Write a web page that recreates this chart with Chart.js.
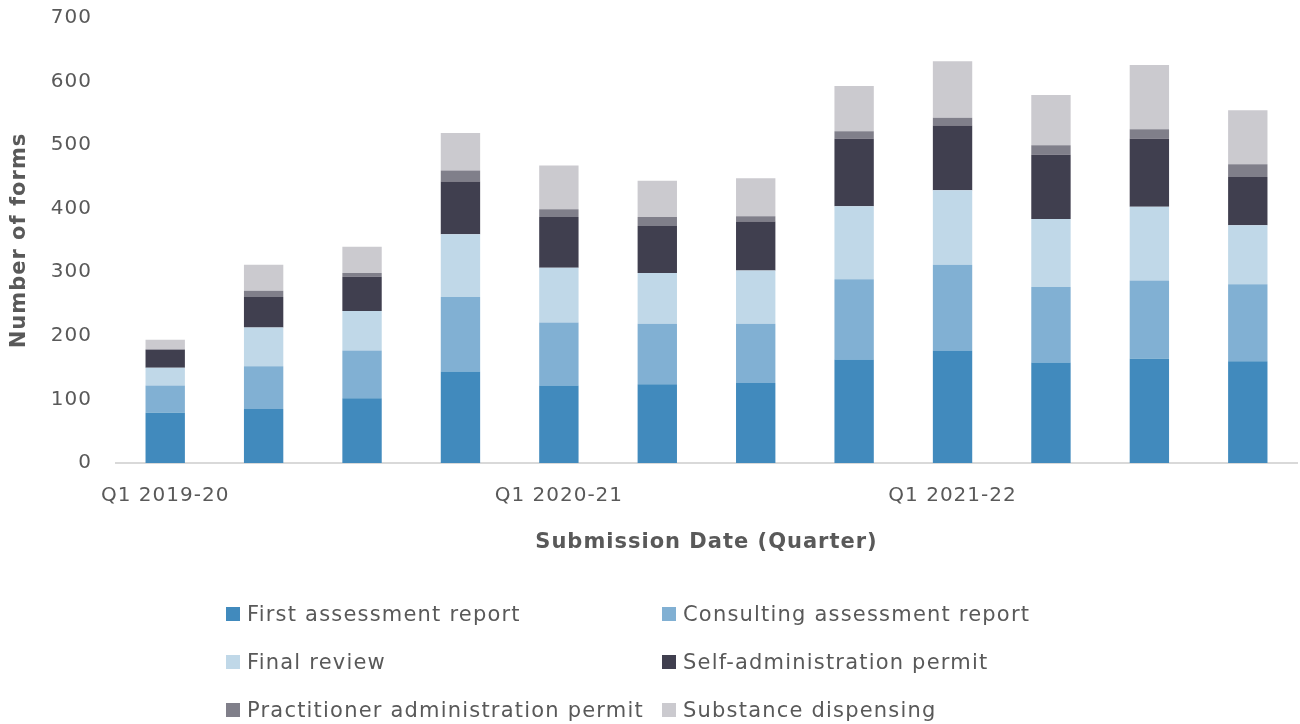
<!DOCTYPE html>
<html>
<head>
<meta charset="utf-8">
<script src="https://cdn.jsdelivr.net/npm/chart.js@4/dist/chart.umd.min.js"></script>
<style>
    body { margin: 0; background: #fff; }
    #wrap { position: relative; width: 1300px; height: 724px; }
    #legend { position: absolute; left: 226px; top: 602px; width: 900px;
        font-family: "DejaVu Sans", sans-serif; font-size: 21px; color: #595959; letter-spacing: 1.2px; }
    .item { position: absolute; display: flex; align-items: center; white-space: nowrap; }
    .box { width: 14px; height: 14px; margin-right: 7px; }
</style>
</head>
<body>
<div id="wrap">
    <canvas id="formsChart" width="1300" height="724"></canvas>
    <div id="legend"></div>
</div>
<script>
// Quarters (only every 4th label is shown, as in the source)
const quarters = [
    'Q1 2019-20', 'Q2 2019-20', 'Q3 2019-20', 'Q4 2019-20',
    'Q1 2020-21', 'Q2 2020-21', 'Q3 2020-21', 'Q4 2020-21',
    'Q1 2021-22', 'Q2 2021-22', 'Q3 2021-22', 'Q4 2021-22'
];

const firstAssessment = [79, 85, 102, 144, 122, 124, 126, 163, 177, 158, 164, 160];
const consultingAssessment = [43, 67, 75, 117, 99, 95, 93, 126, 135, 119, 123, 121];
const finalReview = [28, 61, 62, 99, 86, 80, 84, 115, 117, 107, 116, 93];
const selfAdmin = [28, 48, 54, 83, 80, 74, 77, 106, 102, 101, 107, 76];
const practitionerAdmin = [1, 10, 6, 17, 12, 14, 8, 12, 12, 15, 15, 20];
const substanceDispensing = [15, 41, 41, 59, 69, 57, 60, 71, 89, 79, 101, 85];

const yTicks = [0, 100, 200, 300, 400, 500, 600, 700];

const textColor = '#595959';
const fontFamily = '"DejaVu Sans", sans-serif';

// letter spacing to mimic the wide typeface of the original
const spacingPlugin = {
    id: 'spacing',
    beforeLayout(chart) { chart.ctx.letterSpacing = '1px'; },
    beforeDraw(chart) { chart.ctx.letterSpacing = '1px'; }
};

const ctx = document.getElementById('formsChart').getContext('2d');
const chart = new Chart(ctx, {
    type: 'bar',
    data: {
        labels: quarters,
        datasets: [
            { label: 'First assessment report', data: firstAssessment, backgroundColor: '#418abd' },
            { label: 'Consulting assessment report', data: consultingAssessment, backgroundColor: '#81b0d3' },
            { label: 'Final review', data: finalReview, backgroundColor: '#c0d8e8' },
            { label: 'Self-administration permit', data: selfAdmin, backgroundColor: '#403f4f' },
            { label: 'Practitioner administration permit', data: practitionerAdmin, backgroundColor: '#807f8a' },
            { label: 'Substance dispensing', data: substanceDispensing, backgroundColor: '#cbcacf' }
        ]
    },
    options: {
        responsive: false,
        animation: false,
        layout: { padding: { left: 0, right: 3, top: 18, bottom: 161 } },
        datasets: { bar: { barPercentage: 0.4, categoryPercentage: 1 } },
        plugins: { legend: { display: false }, tooltip: { enabled: false } },
        scales: {
            x: {
                stacked: true,
                grid: { display: false, drawTicks: false },
                border: { display: true, color: '#d9d9d9', width: 2 },
                ticks: {
                    autoSkip: false, maxRotation: 0, padding: 21,
                    color: textColor, font: { family: fontFamily, size: 20 },
                    callback: function (val, i) { return i % 4 === 0 ? quarters[i] : ''; }
                },
                title: {
                    display: true, text: 'Submission Date (Quarter)', color: textColor,
                    font: { family: fontFamily, size: 21, weight: 'bold' },
                    padding: { top: 0, bottom: 8 }
                },
                afterFit: function (scale) { scale.height = 100; }
            },
            y: {
                stacked: true,
                min: 0, max: 700,
                grid: { display: false, drawTicks: false },
                border: { display: false },
                afterBuildTicks: function (scale) { scale.ticks = yTicks.map(v => ({ value: v })); },
                ticks: { padding: 24, color: textColor, font: { family: fontFamily, size: 20 } },
                title: {
                    display: true, text: 'Number of forms', color: textColor,
                    font: { family: fontFamily, size: 21, weight: 'bold' },
                    padding: { top: 7, bottom: 0 }
                },
                afterFit: function (scale) {
                    scale.width = 116;
                    scale.paddingTop = 0;
                    scale.paddingBottom = 0;
                }
            }
        }
    },
    plugins: [spacingPlugin]
});

// Legend in two columns, built from the chart's datasets
const legend = document.getElementById('legend');
legend.innerHTML = chart.data.datasets.map((ds, i) => `
    <div class="item" style="left:${(i % 2) * 436}px; top:${Math.floor(i / 2) * 48}px;">
        <span class="box" style="background:${ds.backgroundColor}"></span>${ds.label}
    </div>
`).join('');
</script>
</body>
</html>
